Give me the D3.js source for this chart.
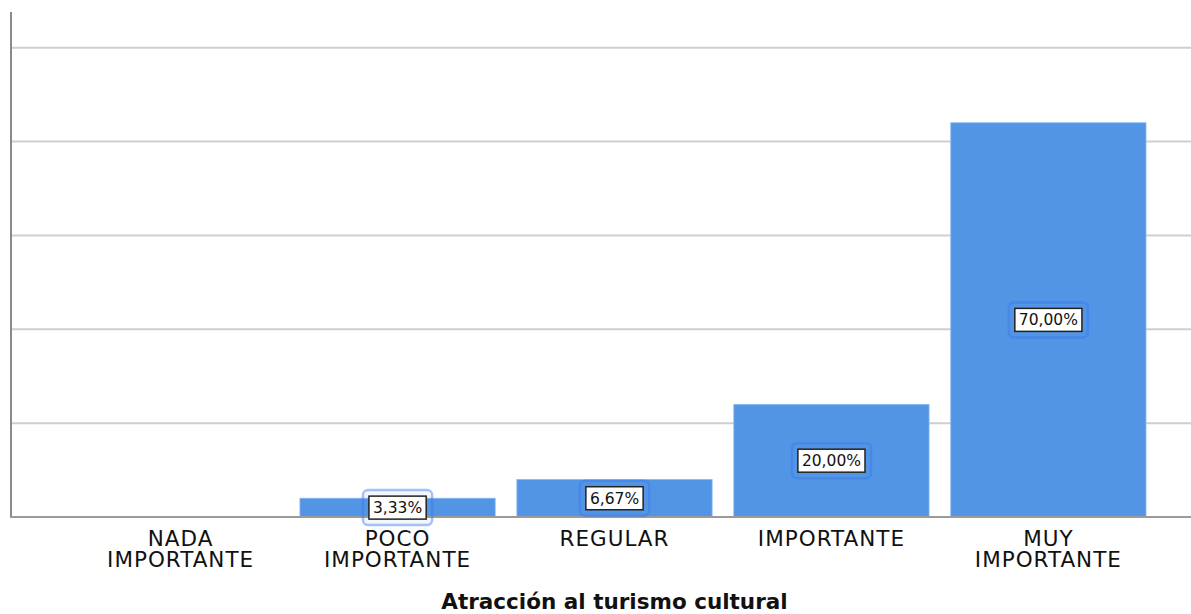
<!DOCTYPE html>
<html><head><meta charset="utf-8">
<script src="https://cdn.jsdelivr.net/npm/d3@7"></script>
<style>html,body{margin:0;padding:0;background:#fff;}</style>
</head><body>
<svg id="chart" width="1191" height="614"></svg>
<script>
const categories = [["NADA","IMPORTANTE"],["POCO","IMPORTANTE"],["REGULAR"],["IMPORTANTE"],["MUY","IMPORTANTE"]];
const counts = [0, 1, 2, 6, 21];
const percentLabels = ["0,00%", "3,33%", "6,67%", "20,00%", "70,00%"];
const gridTicks = [5, 10, 15, 20, 25];
const axisTitle = "Atracción al turismo cultural";

const svg = d3.select("#chart");
const keys = categories.map(c => c.join(" "));
const x = d3.scaleBand().domain(keys).range([83, 1146]).paddingInner(0.1).paddingOuter(0);
const y = d3.scaleLinear().domain([0, 26.9]).range([517, 12]);
const font = "'DejaVu Sans', Verdana, sans-serif";

// gridlines
svg.append("g").selectAll("line").data(gridTicks).join("line")
  .attr("x1", 11).attr("x2", 1191)
  .attr("y1", d => y(d)).attr("y2", d => y(d))
  .attr("stroke", "#cfcfcf").attr("stroke-width", 2);

// bars
svg.append("g").selectAll("rect").data(counts.map((c, i) => ({c, k: keys[i]})).filter(d => d.c > 0)).join("rect")
  .attr("x", d => x(d.k))
  .attr("y", d => y(d.c))
  .attr("width", x.bandwidth())
  .attr("height", d => y(0) - y(d.c))
  .attr("fill", "#5295e4")
  .attr("stroke", "#8cbaf0").attr("stroke-width", 0.8);

// axes lines
svg.append("line").attr("x1", 11).attr("x2", 11).attr("y1", y.range()[1]).attr("y2", y(0)+1)
  .attr("stroke", "#8a8a8a").attr("stroke-width", 2);
svg.append("line").attr("x1", 10).attr("x2", 1191).attr("y1", y(0)).attr("y2", y(0))
  .attr("stroke", "#9a9a9a").attr("stroke-width", 2);

// value labels
const lab = svg.append("g");
counts.forEach((c, i) => {
  if (c <= 0) return;
  const cx = x(keys[i]) + x.bandwidth() / 2;
  const cy = (y(c) + y(0)) / 2;
  const g = lab.append("g").attr("transform", `translate(${cx},${cy})`);
  const outer = g.append("rect");
  const inner = g.append("rect");
  const t = g.append("text").text(percentLabels[i])
    .attr("text-anchor", "middle").attr("dy", "0.36em")
    .attr("font-family", font).attr("font-size", 15.5).attr("fill", "#111");
  const w = t.node().getComputedTextLength();
  const iw = w + 8, ih = 23;
  inner.attr("x", -iw/2).attr("y", -ih/2).attr("width", iw).attr("height", ih)
    .attr("fill", "#fff").attr("stroke", "#222").attr("stroke-width", 1.5);
  outer.attr("x", -iw/2 - 6).attr("y", -ih/2 - 6).attr("width", iw + 12).attr("height", ih + 12)
    .attr("rx", 5).attr("fill", "rgba(90,150,240,0.08)")
    .attr("stroke", "rgba(60,120,235,0.45)").attr("stroke-width", 2.5);
});

// category labels
const cl = svg.append("g");
categories.forEach((lines, i) => {
  const cx = x(keys[i]) + x.bandwidth() / 2;
  lines.forEach((ln, j) => {
    cl.append("text").attr("x", cx).attr("y", 546 + j * 21).text(ln)
      .attr("text-anchor", "middle")
      .attr("font-family", font).attr("font-size", 21.5)
      .attr("letter-spacing", 1).attr("fill", "#111");
  });
});

// axis title
svg.append("text").text(axisTitle)
  .attr("x", (x.range()[0] + x.range()[1]) / 2).attr("y", 609)
  .attr("text-anchor", "middle").attr("font-family", font)
  .attr("font-weight", "bold").attr("font-size", 21.5).attr("fill", "#111");
</script>
</body></html>
